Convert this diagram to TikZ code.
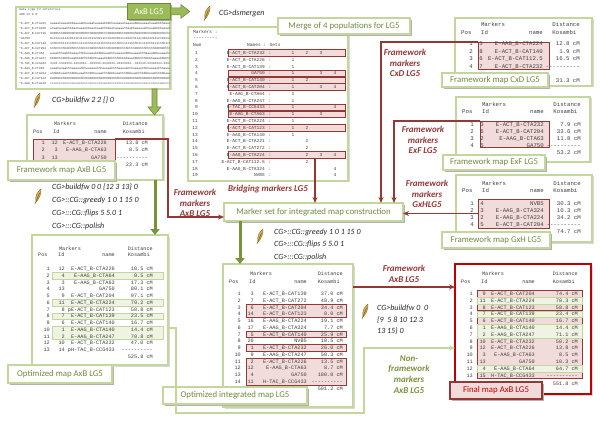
\documentclass[tikz,border=0pt]{standalone}
\usepackage{fontspec}
\setmainfont{Carlito}
\newfontfamily\tabfont{Liberation Mono}
\usetikzlibrary{arrows.meta,shadows,calc}

\definecolor{boxgreen}{HTML}{C3D69B}
\definecolor{labgreen}{HTML}{6E8B3D}
\definecolor{tabgreen}{HTML}{9BBB59}
\definecolor{tabedge}{HTML}{71893F}
\definecolor{arrowgreen}{HTML}{77933C}
\definecolor{darkred}{HTML}{953735}
\definecolor{finalred}{HTML}{C00000}
\definecolor{hlpink}{HTML}{F2DCDB}
\definecolor{hlgreen}{HTML}{EEF3E2}
\definecolor{quillcol}{HTML}{D4AE52}
\definecolor{quilldark}{HTML}{7A5A1E}

\newcommand{\dashrow}{-{}-{}-{}-{}-{}-{}-{}-{}-{}-}

% header of a map table: prefix, left x, y1, y2, name col, dist col
\newcommand{\mapheader}[6]{%
  \node[cell, anchor=base] (#1-mk) at (#2+38, #3+1.5) {Markers};
  \node[cell, anchor=base west] (#1-ps) at (#2+6, #4+1.5) {Pos};
  \node[cell, anchor=base west] (#1-id) at (#2+26, #4+1.5) {Id};
  \node[cell] (#1-nm) at (#2+#5, #4+1.5) {name};
  \node[cell] (#1-ds) at (#2+#6, #3+1.5) {Distance};
  \node[cell, anchor=base west] (#1-ko) at ($(#1-ds.base west)+(0,#4-#3)$) {Kosambi};
}
% rows of a map table: prefix, left x, first y, step, id col, name col, dist col, rows
\newcommand{\maprows}[8]{%
  \foreach \rpos/\rid/\rname/\rdist [count=\k] in {#8} {
    \node[cell] (#1-p\k) at (#2+18, #3+\k*#4-#4+1.5) {\rpos};
    \node[cell] (#1-i\k) at (#2+#5, #3+\k*#4-#4+1.5) {\rid};
    \node[cell] (#1-n\k) at (#2+#6, #3+\k*#4-#4+1.5) {\rname};
    \node[cell] (#1-d\k) at (#2+#7, #3+\k*#4-#4+1.5) {\rdist};
  }
}

\tikzset{
  mapbox/.style={draw=boxgreen, line width=1.2pt, fill=white, inner sep=0pt, outer sep=0pt,
    anchor=north west, general shadow={fill=black!15, shadow xshift=1.5pt, shadow yshift=-1.5pt}},
  finalbox/.style={mapbox, draw=finalred, line width=1.6pt},
  maplabel/.style={draw=boxgreen, line width=1.5pt, fill=white, text=labgreen, inner sep=0pt,
    outer sep=0pt, anchor=north west, font=\fontsize{8.8}{10}\selectfont,
    general shadow={fill=black!30, shadow xshift=1.8pt, shadow yshift=-1.8pt}},
  finallabel/.style={maplabel, draw=darkred, line width=1.8pt, fill=hlpink, text=finalred},
  tab/.style={draw=tabedge, line width=0.8pt, fill=tabgreen, text=white, inner sep=0pt,
    anchor=north west, font=\fontsize{8.8}{10}\selectfont,
    general shadow={fill=black!30, shadow xshift=1.5pt, shadow yshift=-1.5pt}},
  cell/.style={font=\tabfont\fontsize{5.2}{6}\selectfont, text=black!75, inner sep=0pt, anchor=base east},
  mcell/.style={cell, font=\tabfont\fontsize{4.5}{5}\selectfont},
  datacell/.style={font=\tabfont\fontsize{3}{3.5}\selectfont, text=black!75, inner sep=0pt, anchor=base west},
  redhl/.style={draw=darkred, line width=0.9pt, fill=hlpink, inner sep=0pt, outer sep=0pt, anchor=north west},
  greenhl/.style={draw=boxgreen, line width=0.9pt, fill=hlgreen, inner sep=0pt, outer sep=0pt, anchor=north west},
  cmd/.style={font=\itshape\fontsize{8}{10}\selectfont, text=black!85, inner sep=0pt, anchor=west},
  redlab/.style={text=darkred, font=\bfseries\itshape\fontsize{9}{10.8}\selectfont, align=center, inner sep=0pt},
  greenlab/.style={redlab, text=arrowgreen},
  redlink/.style={draw=darkred, line width=1.3pt, -{Stealth[length=6pt,width=5pt]}},
  greenlink/.style={draw=boxgreen, line width=1.3pt, -{Stealth[length=6pt,width=5pt]}},
  fatarrow/.style={draw=arrowgreen, line width=3pt, -{Triangle[length=6pt,width=9pt]}},
  blockarrow/.style={fill=tabgreen, draw=tabedge, line width=0.6pt},
  quill/.pic={
    \fill[quillcol, draw=quilldark, line width=0.3pt] (-2,6) .. controls (-3.5,0) and (0,-5) .. (3,-7)
      .. controls (3.5,-2) and (1,3) .. (-2,6) -- cycle;
    \draw[quilldark, line width=0.5pt] (-3,8) -- (1.5,-3);
  }
}

\begin{document}
\begin{tikzpicture}[x=1pt, y=-1pt]
\useasboundingbox (0,0) rectangle (600,425);

% ---- input data AxB
\node[mapbox, minimum width=154pt, minimum height=82pt] (datab) at (16,7) {};
\begin{scope}
  \clip (17,8) rectangle (169,88);
  \node[datacell] (dt1) at (19,11) {data type f2 intercross};
  \node[datacell] (dt2) at (19,16) {480 13 0 0};
  \foreach \mk/\gt [count=\k] in {
    E-ACT\_B-CTA232/aaaaahaaaabbbaaaaahbaaaahaaaaabbbhhaaaaaahaaaaabbbaaaaahaaabbbhaaaahabaaab,
    E-ACT\_B-CTA226/ahaahaaaahhbbaahaaaahbaaahaaahhbbaahaaaaahhaabbaaaaaahhaaabbbbaaaahaabhaah,
    E-ACT\_B-CAT139/0000hhh000000h0000000hh000000hhh0000000hh000000h00000hhh000000hhhh00000hh0,
    GA750/0121212143201312411212131202141131203012110122311213012421312101231021312,
    E-ACT\_B-CAT140/1hhhhhh1111hhhh11111hhh111111hhhh1111hhh11111hhhh11111hhh1111hhh1111111hh,
    E-ACT\_B-CAT204/hhhhhhhhh000hhhhhhhhhhh000hhhhhhhh0000hhhhhhhhh000hhhhhhhh00000hhhhhhhh00h,
    E-AAG\_B-CTA64/aaaahhhaabbbaaaahhhhaaaaabbbbbaaahhhaaaaabbbbaaaaahhhaaaabbbaaaaahhhhaabba,
    E-AAG\_B-CTA247/bbbbhhhbbbbaaabbbbhhhbbbbbaaaabbbbhhhhbbbbbaaabbbbhhhbbbbaaaabbbbhhhbbbaab,
    H-TAC\_B-CCG433/3333-3333333-3333333--333333-3333333-33333333--333333-33333333-33333333-33,
    E-AAG\_B-CTA63/aaaahaaaahhhaaaaahhhaaaaaahhhaaaaahhhhaaaaahhhaaaaahhhhaaaaahhhaaaaahhaaah,
    E-ACT\_B-CTA224/ahhbbbaaahhhbbbaaaahhhbbbaaaahhhbbbbaaahhhbbbaaahhhbbbbaaahhhbbbaaahhhbbaa,
    E-ACT\_B-CAT123/0000000h000000000hh00000000h000000000hhh0000000h00000000hh00000000h0000000,
    E-AAG\_B-CTA140/cccccccccccccccaccccccccccccccaccccccccccccccacccccccccccccccacccccccccccca} {
    \node[datacell] (dm\k) at (19, 20+5*\k) {*\mk};
    \node[datacell] (dg\k) at (50, 20+5*\k) {\gt};
  }
\end{scope}
\node[tab, minimum width=43pt, minimum height=16pt] (tabAB) at (127,3) {AxB LG5};
\draw[blockarrow] ([yshift=3.5pt]tabAB.east) -- ++(10,0) -- ++(0,-3.5) -- ++(9,7) -- ++(-9,7)
  -- ++(0,-3.5) -- ++(-10,0) -- cycle;
\pic at (37,100) {quill};
\node[cmd] (cmdfw1) at (52,100) {CG>buildfw 2 2 \{\} 0};

% ---- framework map AxB
\node[mapbox, minimum width=136pt, minimum height=65pt] (fwAB) at (27,115) {};
\coordinate (g0-x) at (154.5,0);
\draw[blockarrow] ($(g0-x |- datab.south)+(-2.5,0)$) -- ++(0,18) -- ++(-4,0) -- ++(6.5,8)
  -- ++(6.5,-8) -- ++(-4,0) -- ++(0,-18) -- cycle;
\node[redhl, minimum width=82pt, minimum height=22pt] (fwABhl) at (33,139) {};
\mapheader{fab}{27}{124}{132}{80}{121}
\maprows{fab}{27}{143}{7.5}{31}{80}{121}{1/12/E-ACT\_B-CTA226/13.8 cM, 2/3/E-AAG\_B-CTA63/8.5 cM,
  3/13/GA750/\dashrow}
\node[cell] (fab-tot) at (148,166.5) {22.3 cM};
\node[maplabel, minimum width=107pt, minimum height=19pt] (fwABlab) at (8,161) {Framework map AxB LG5};

% ---- commands for optimized AxB
\pic at (38,196) {quill};
\node[cmd] (cmdfw2) at (52,187) {CG>buildfw 0 0 \{12 3 13\} 0};
\node[cmd] (cmdgr1) at (52,200) {CG>::CG::greedy 1 0 1 15 0};
\node[cmd] (cmdfl1) at (52,213) {CG>:::CG::flips 5 5.0 1};
\node[cmd] (cmdpo1) at (52,226) {CG>:::CG::polish};

% ---- optimized map AxB
\node[mapbox, minimum width=136pt, minimum height=130pt] (optAB) at (32,235) {};
\coordinate (g1-x) at (155,0);
\draw[fatarrow] (g1-x |- fwAB.south) -- (g1-x |- optAB.north);
\foreach \a/\b in {2/2, 6/6, 8/8, 10/11}
  \node[greenhl, minimum width=111pt, minimum height={(\b-\a)*6.75+6.6}] (ophl\a) at (52, 269+\a*6.75-6.75-3.3) {};
\mapheader{oab}{32}{249}{255}{83}{121}
\maprows{oab}{32}{269}{6.75}{33}{83}{121}{1/12/E-ACT\_B-CTA226/10.5 cM, 2/4/E-AAG\_B-CTA64/9.5 cM,
  3/3/E-AAG\_B-CTA63/17.3 cM, 4/13/GA750/80.1 cM, 5/9/E-ACT\_B-CAT204/97.1 cM,
  6/11/E-ACT\_B-CTA224/79.2 cM, 7/8/pE-ACT\_B-CAT123/58.8 cM, 8/7/E-ACT\_B-CAT139/23.5 cM,
  9/6/E-ACT\_B-CAT140/16.7 cM, 10/1/E-AAG\_B-CTA140/14.4 cM, 11/2/E-AAG\_B-CTA247/70.8 cM,
  12/10/E-ACT\_B-CTA232/47.0 cM, 13/14/pH-TAC\_B-CCG433/\dashrow}
\node[cell] (oab-tot) at (153,358.5) {525.8 cM};
\node[maplabel, minimum width=104pt, minimum height=18pt] (optABlab) at (8,365) {Optimized map AxB LG5};

% ---- merge of the populations
\pic at (207,13) {quill};
\node[cmd] (cmdmg) at (219,13) {CG>dsmergen};
\node[mapbox, minimum width=160pt, minimum height=154pt] (merge) at (188,27) {};
\foreach \k in {1,4,5,6,9,10,12,16}
  \node[redhl, minimum width=117pt, minimum height=6.4pt] (mghl\k) at (228, 53+6.8*\k-6.8-3.2) {};
\node[mcell, anchor=base west] (mg-h1) at (193,33.5) {Markers :};
\node[mcell, anchor=base west] (mg-h2) at (193,39.5) {-{}-{}-{}-{}-{}-{}-{}-:};
\node[mcell, anchor=base west] (mg-h3) at (193,46.5) {Num};
\node[mcell, anchor=base west] (mg-h4) at (247,46.5) {Names : Sets};
\foreach \mn/\sa/\sb/\sc/\sd [count=\k] in {
  E-ACT\_B-CTA232/1/2/3/{}, E-ACT\_B-CTA226/1/{}/{}/{}, E-ACT\_B-CAT139/1/{}/{}/{},
  GA750/1/{}/3/4, E-ACT\_B-CAT140/1/2/{}/{}, E-ACT\_B-CAT204/1/{}/3/4,
  E-AAG\_B-CTA64/1/{}/{}/{}, E-AAG\_B-CTA247/1/{}/{}/{}, H-TAC\_B-CCG433/1/{}/{}/4,
  E-AAG\_B-CTA63/1/{}/3/{}, E-ACT\_B-CTA224/1/{}/{}/{}, E-ACT\_B-CAT123/1/2/{}/{},
  E-AAG\_B-CTA140/1/{}/{}/{}, E-ACT\_B-CTA221/{}/2/{}/{}, E-ACT\_B-CAT272/{}/2/{}/{},
  E-AAG\_B-CTA224/{}/2/3/4, E-ACT\_B-CAT112.5/{}/2/{}/{}, E-AAG\_B-CTA324/{}/{}/{}/4,
  NVB5/{}/{}/{}/4} {
  \node[mcell] (mg-n\k) at (198, 54.5+6.8*\k-6.8) {\k};
  \node[mcell] (mg-m\k) at (265, 54.5+6.8*\k-6.8) {\mn};
  \node[mcell, anchor=base] (mg-c\k) at (270, 54.5+6.8*\k-6.8) {:};
  \node[mcell, anchor=base] (mg-a\k) at (293, 54.5+6.8*\k-6.8) {\sa};
  \node[mcell, anchor=base] (mg-b\k) at (307, 54.5+6.8*\k-6.8) {\sb};
  \node[mcell, anchor=base] (mg-s\k) at (321, 54.5+6.8*\k-6.8) {\sc};
  \node[mcell, anchor=base] (mg-d\k) at (335, 54.5+6.8*\k-6.8) {\sd};
}
\node[maplabel, minimum width=132pt, minimum height=16pt] (mergelab) at (278,18) {Merge of 4 populations for LG5};
\node[redlab] (bridgetxt) at (268,189) {Bridging markers LG5};

% ---- framework maps of the other populations
\begin{scope}[cell/.append style={font=\tabfont\fontsize{5.7}{6}\selectfont}]
  \node[mapbox, minimum width=137pt, minimum height=68pt] (fwCD) at (455,18) {};
  \node[redhl, minimum width=71pt, minimum height=27pt] (cdhl) at (478,42) {};
  \mapheader{fcd}{455}{25}{33}{88}{125}
  \maprows{fcd}{455}{44.3}{7.5}{28}{88}{125}{1/5/E-AAG\_B-CTA224/12.8 cM, 2/8/E-ACT\_B-CAT140/1.9 cM,
    3/6/E-ACT\_B-CAT112.5/16.5 cM, 4/7/E-ACT\_B-CTA232/\dashrow}
  \node[cell] (fcd-tot) at (580,82.5) {31.3 cM};
  \node[maplabel, minimum width=106pt, minimum height=14pt] (fwCDlab) at (442,73) {Framework map CxD LG5};

  \node[mapbox, minimum width=134pt, minimum height=65pt] (fwEF) at (456,97) {};
  \node[redhl, minimum width=69pt, minimum height=26pt] (efhl) at (480,121) {};
  \mapheader{fef}{456}{105}{112}{88}{125}
  \maprows{fef}{456}{125}{7}{28}{88}{125}{1/3/E-ACT\_B-CTA232/7.9 cM, 2/6/E-ACT\_B-CAT204/33.6 cM,
    3/2/E-AAG\_B-CTA63/11.8 cM, 4/5/GA750/\dashrow}
  \node[cell] (fef-tot) at (581,154.5) {53.2 cM};
  \node[maplabel, minimum width=102pt, minimum height=15pt] (fwEFlab) at (443,155) {Framework map ExF LG5};

  \node[mapbox, minimum width=136pt, minimum height=67pt] (fwGH) at (456,175) {};
  \node[redhl, minimum width=71pt, minimum height=29pt] (ghhl) at (478,199) {};
  \mapheader{fgh}{456}{184}{191}{88}{125}
  \maprows{fgh}{456}{204}{7}{28}{88}{125}{1/4/NVB5/30.3 cM, 2/3/E-AAG\_B-CTA324/10.3 cM,
    3/2/E-AAG\_B-CTA224/34.2 cM, 4/5/E-ACT\_B-CAT204/\dashrow}
  \node[cell] (fgh-tot) at (581,233.5) {74.7 cM};
  \node[maplabel, minimum width=108pt, minimum height=16pt] (fwGHlab) at (442,232) {Framework map GxH LG5};
\end{scope}
\node[redlab] (cdtxt) at (405,63) {Framework\\markers\\CxD LG5};
\node[redlab] (eftxt) at (423,140) {Framework\\markers\\ExF LG5};
\node[redlab] (ghtxt) at (427,194) {Framework\\markers\\GxHLG5};
\node[redlab] (abtxt) at (195,203) {Framework\\markers\\AxB LG5};

% ---- marker set and integrated map
\node[maplabel, minimum width=179pt, minimum height=18pt] (markerset) at (224,203) {Marker set for integrated map construction};
\coordinate (ab-bend) at (168,217);
\draw[redlink] (fwABhl.north east) -| (ab-bend) -- (ab-bend -| markerset.west);
\coordinate (cd-x) at (381,0);
\draw[redlink] (cdhl.north west) -| (cd-x |- markerset.north);
\coordinate (ef-x) at (394,0);
\draw[redlink] (efhl.north west) -| (ef-x |- markerset.north);
\draw[redlink] (ghhl.west) -- (ghhl.west -| markerset.east);
\coordinate (br-x) at (315,0);
\draw[redlink] (br-x |- mghl16.south) -- (br-x |- markerset.north);

\pic at (260,236) {quill};
\node[cmd] (cmdgr2) at (274,232) {CG>::CG::greedy 1 0 1 15 0};
\node[cmd] (cmdfl2) at (274,244.5) {CG>:::CG::flips 5 5.0 1};
\node[cmd] (cmdpo2) at (274,257) {CG>:::CG::polish};

\node[mapbox, minimum width=130pt, minimum height=143pt] (integ) at (223,264) {};
\coordinate (g2-x) at (240,0);
\draw[fatarrow] (g2-x |- markerset.south) -- (g2-x |- integ.north);
\foreach \a/\b in {3/4, 7/7, 9/9, 11/14}
  \node[redhl, minimum width=100pt, minimum height={(\b-\a)*6.77+6.6}] (inhl\a) at (246, 294+\a*6.77-6.77-3.3) {};
\mapheader{int}{223}{274}{282}{84}{120}
\maprows{int}{223}{294}{6.77}{31}{84}{120}{1/3/E-ACT\_B-CAT139/37.0 cM, 2/7/E-ACT\_B-CAT272/48.9 cM,
  3/6/E-ACT\_B-CAT204/34.4 cM, 4/14/E-ACT\_B-CAT123/0.0 cM, 5/16/E-AAG\_B-CTA224/19.1 cM,
  6/17/E-AAG\_B-CTA324/7.7 cM, 7/5/E-ACT\_B-CAT140/25.9 cM, 8/20/NVB5/10.5 cM,
  9/1/E-ACT\_B-CTA232/26.0 cM, 10/9/E-AAG\_B-CTA247/50.3 cM, 11/2/E-ACT\_B-CTA226/13.5 cM,
  12/12/E-AAG\_B-CTA63/8.7 cM, 13/4/GA750/180.0 cM, 14/11/H-TAC\_B-CCG433/\dashrow}
\node[cell] (int-tot) at (343,390.5) {501.2 cM};
\node[maplabel, minimum width=144pt, minimum height=17pt] (integlab) at (163,387) {Optimized integrated map LG5};

% ---- final map AxB
\node[finalbox, minimum width=136pt, minimum height=130pt] (final) at (455,264) {};
\foreach \a/\b in {1/1, 3/3, 5/5, 8/11, 13/13}
  \node[redhl, minimum width=105pt, minimum height={(\b-\a)*6.8+6.6}] (fnhl\a) at (477, 294+\a*6.8-6.8-3.3) {};
\foreach \a/\b in {2/2, 4/4, 6/7, 12/12}
  \node[greenhl, minimum width=105pt, minimum height={(\b-\a)*6.8+6.6}] (fngl\a) at (477, 294+\a*6.8-6.8-3.3) {};
\mapheader{fin}{455}{274}{282}{80}{123}
\maprows{fin}{455}{294}{6.8}{31}{80}{123}{1/9/E-ACT\_B-CAT204/74.4 cM, 2/11/E-ACT\_B-CTA224/70.3 cM,
  3/8/E-ACT\_B-CAT123/58.8 cM, 4/7/E-ACT\_B-CAT139/23.4 cM, 5/6/E-ACT\_B-CAT140/16.7 cM,
  6/1/E-AAG\_B-CTA140/14.4 cM, 7/2/E-AAG\_B-CTA247/71.1 cM, 8/10/E-ACT\_B-CTA232/50.2 cM,
  9/12/E-ACT\_B-CTA226/13.8 cM, 10/3/E-AAG\_B-CTA63/8.5 cM, 11/13/GA750/10.3 cM,
  12/4/E-AAG\_B-CTA64/64.7 cM, 13/15/H-TAC\_B-CCG433/\dashrow}
\node[cell] (fin-tot) at (578,385.5) {551.8 cM};
\node[finallabel, minimum width=92pt, minimum height=17pt] (finallab) at (450,382) {Final map AxB LG5};

\coordinate (fw-y) at (0,287);
\draw[redlink] (fw-y -| integ.east) -- (fw-y -| final.west);
\node[redlab] (fwfintxt) at (404,273.5) {Framework\\AxB LG5};
\pic at (365,311) {quill};
\node[cmd] (cmdfw3) at (377,308) {CG>buildfw 0\ \ 0};
\node[cmd] (cmdfw4) at (377,320) {\{9\ \ 5 8 10 12 3};
\node[cmd] (cmdfw5) at (377,331) {13 15\} 0};

\coordinate (nf-y) at (0,328);
\coordinate (nf-a) at (176,413);
\coordinate (nf-b) at (364,348);
\draw[greenlink] (nf-y -| optAB.east) -| (nf-a) -| (nf-b) -- (nf-b -| final.west);
\node[greenlab] (nftxt) at (409,374.5) {Non-\\framework\\markers\\AxB LG5};
\end{tikzpicture}
\end{document}
